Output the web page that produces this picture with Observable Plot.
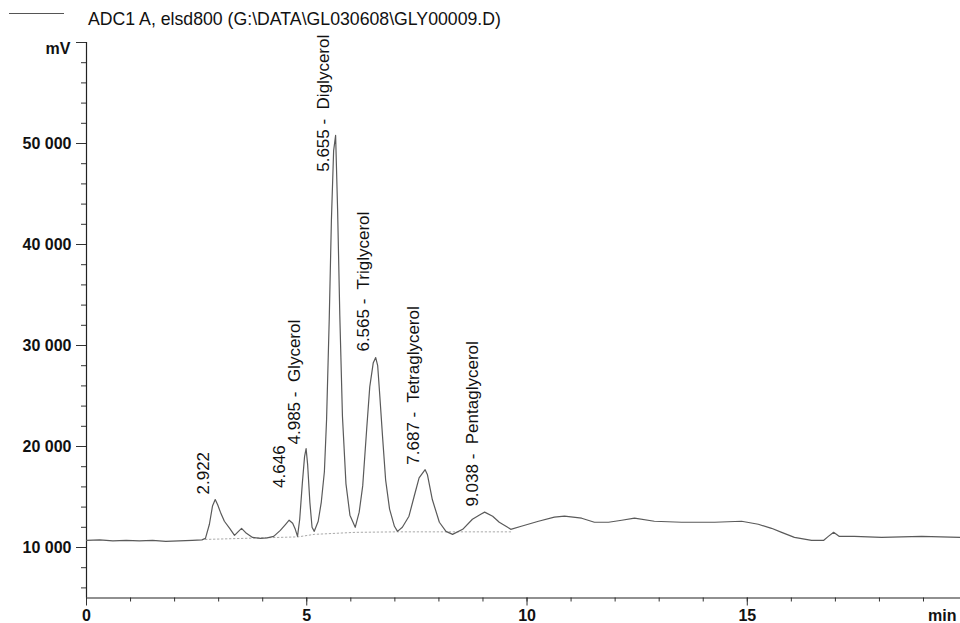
<!DOCTYPE html>
<html><head><meta charset="utf-8">
<script src="https://cdn.jsdelivr.net/npm/d3@7"></script>
<script src="https://cdn.jsdelivr.net/npm/@observablehq/plot@0.6"></script>
<style>
html,body{margin:0;padding:0;background:#fff;}
#wrap{position:relative;width:960px;height:623px;overflow:hidden;font-family:"Liberation Sans",Arial,sans-serif;}
#legendLine{position:absolute;left:9px;top:13px;width:55px;border-top:1.5px solid #555;}
#title{position:absolute;left:88px;top:9px;font-size:17.7px;color:#111;white-space:nowrap;}
</style></head><body>
<div id="wrap"><div id="legendLine"></div><div id="title">ADC1 A, elsd800 (G:\DATA\GL030608\GLY00009.D)</div></div>
<script>
// Chromatogram trace (time in min, signal in mV)
const time = [0.00,0.30,0.60,0.90,1.20,1.50,1.80,2.10,2.40,2.62,2.70,2.79,2.86,2.922,2.98,3.04,3.13,3.25,3.36,3.45,3.52,3.63,3.77,3.95,4.10,4.25,4.40,4.52,4.60,4.68,4.74,4.79,4.84,4.90,4.95,4.985,5.02,5.07,5.12,5.17,5.26,5.33,5.40,5.45,5.51,5.56,5.61,5.655,5.70,5.75,5.81,5.89,5.98,6.10,6.19,6.27,6.36,6.43,6.51,6.565,6.61,6.66,6.72,6.79,6.88,6.99,7.06,7.17,7.32,7.44,7.55,7.687,7.74,7.85,8.01,8.16,8.31,8.54,8.76,8.95,9.038,9.22,9.37,9.56,9.63,9.87,10.26,10.62,10.85,11.24,11.53,11.85,12.15,12.44,12.89,13.51,14.26,14.87,15.25,15.55,15.78,16.07,16.46,16.73,16.84,16.96,17.09,17.43,18.05,18.96,19.84];
const signal = [10700,10750,10650,10700,10650,10700,10600,10650,10700,10750,10900,12300,14100,14750,14200,13500,12600,11900,11200,11600,11900,11400,11000,10900,10950,11100,11700,12300,12700,12400,11800,11100,12800,16400,19000,19800,18200,14500,12000,11600,12600,14500,17500,22700,32600,42500,49300,50800,43500,33000,23000,16300,13200,12000,13500,16100,21700,25900,28300,28800,28000,24900,21000,16700,13800,12100,11600,12000,13100,15100,16900,17700,17200,14750,12500,11600,11300,11800,12800,13300,13500,13100,12500,12000,11800,12100,12600,13000,13100,12900,12500,12500,12700,12900,12600,12500,12500,12600,12300,11900,11500,11000,10700,10700,11100,11500,11100,11100,11000,11100,11000];

// Integration baseline
const baseTime = [2.70,4.80,5.17,6.10,7.06,8.31,9.63];
const baseSignal = [10800,11050,11300,11500,11550,11550,11550];

// Peak annotations
const peakTimes = [2.922,4.646,4.985,5.655,6.565,7.687,9.038];
const peakNames = ["","","Glycerol","Diglycerol","Triglycerol","Tetraglycerol","Pentaglycerol"];
const peakLabelBase = [15250,15900,20200,47200,29400,18200,14050];

// Axis ticks
const yMajor = [10000,20000,30000,40000,50000,60000];
const yMinor = d3.range(6000,60001,2000);
const xMajor = [0,5,10,15];
const xMinor = d3.range(0,20,1);

const trace = time.map((t,i)=>({t, v: signal[i]}));
const base = baseTime.map((t,i)=>({t, v: baseSignal[i]}));
const peaks = peakTimes.map((t,i)=>({t, v: peakLabelBase[i], label: t.toFixed(3) + (peakNames[i] ? " -  " + peakNames[i] : "")}));

const fmt = d => d === 60000 ? "" : d3.format(",")(d).replace(/,/g, " ");
const font = "Liberation Sans, Arial, sans-serif";

const chart = Plot.plot({
  width: 960, height: 623,
  marginLeft: 86, marginRight: 0, marginTop: 42, marginBottom: 25.5,
  x: {domain: [0, 19.84]},
  y: {domain: [5000, 60000]},
  style: {fontFamily: font, background: "#fff", color: "#111"},
  marks: [
    Plot.axisY(yMinor, {tickSize: 5, tickFormat: () => "", label: null, stroke: "#333"}),
    Plot.axisY(yMajor, {tickSize: 10, tickPadding: 5, tickFormat: fmt, fontSize: 16, fontWeight: "bold", label: null, stroke: "#333", fill: "#111"}),
    Plot.axisX(xMinor, {tickSize: 4, tickFormat: () => "", label: null, stroke: "#333"}),
    Plot.axisX(xMajor, {tickSize: 8, tickPadding: 4, fontSize: 16, fontWeight: "bold", label: null, stroke: "#333", fill: "#111"}),
    Plot.ruleX([0], {stroke: "#222", strokeWidth: 1.2}),
    Plot.ruleY([5000], {stroke: "#222", strokeWidth: 1.2}),
    Plot.line(base, {x: "t", y: "v", stroke: "#aaa", strokeWidth: 1, strokeDasharray: "1.5,2.5"}),
    Plot.line(trace, {x: "t", y: "v", stroke: "#5a5a5a", strokeWidth: 1.2}),
    Plot.text(peaks, {x: "t", y: "v", text: "label", rotate: -90, textAnchor: "start", lineAnchor: "middle", dx: -12, fontSize: 17, fill: "#111"}),
    Plot.text(["mV"], {frameAnchor: "top-left", dx: -16, dy: 6, textAnchor: "end", lineAnchor: "middle", fontSize: 16, fontWeight: "bold", fill: "#111"}),
    Plot.text(["min"], {frameAnchor: "bottom-right", dx: -4, dy: 18, textAnchor: "end", lineAnchor: "middle", fontSize: 16, fontWeight: "bold", fill: "#111"})
  ]
});
document.getElementById("wrap").appendChild(chart);
</script>
</body></html>
